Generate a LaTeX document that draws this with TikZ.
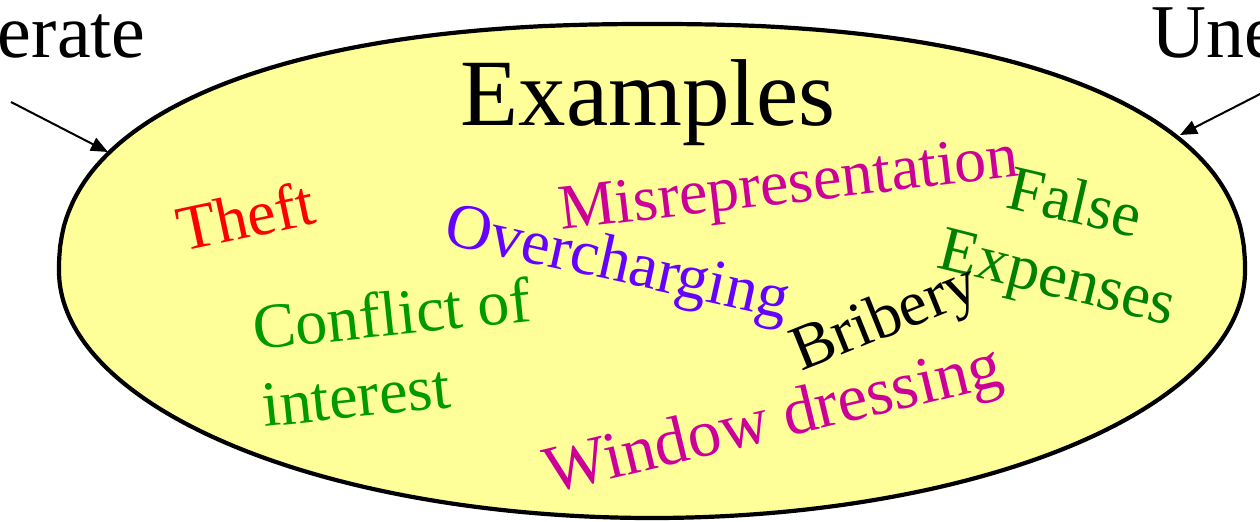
\documentclass[tikz,border=0pt]{standalone}
\usepackage{fontspec}
\setmainfont{Liberation Serif}
\usetikzlibrary{arrows.meta}
\definecolor{ellfill}{HTML}{FFFF99}
\definecolor{cred}{HTML}{FF0000}
\definecolor{cgreen}{HTML}{009900}
\definecolor{cdkgreen}{HTML}{008000}
\definecolor{cviolet}{HTML}{6600FF}
\definecolor{cmagenta}{HTML}{CC0099}
\begin{document}
\begin{tikzpicture}[x=0.5pt,y=-0.5pt,
  lbl/.style={anchor=base west, inner sep=0pt, font=\fontsize{32}{38}\selectfont},
  side/.style={inner sep=0pt, font=\fontsize{38}{44}\selectfont},
  arr/.style={line width=1pt, -{Triangle[length=8.5pt,width=7pt]}}]
\useasboundingbox (0,0) rectangle (1260,521);
% the oval (fuller at the top than at the bottom)
\draw[fill=ellfill, line width=2.1pt, line join=round]
  plot[domain=0:180, samples=181, variable=\t]
    ({652+593*sign(cos(\t))*(abs(cos(\t))+0.000001)^0.8696},
     {271-247*(abs(sin(\t))+0.000001)^0.8696})
  -- plot[domain=180:360, samples=181, variable=\t]
    ({652+593*cos(\t)}, {271-247*sin(\t)}) -- cycle;
\node[inner sep=0pt, anchor=base, font=\fontsize{47.5}{56}\selectfont] (title) at (648,125) {Examples};
\node[side, anchor=base east] (lft) at (146,57) {erate};
\node[side, anchor=base west] (rgt) at (1151,57) {Une};
\coordinate (lstart) at (11,102);
\coordinate (ltip) at (108,152);
\coordinate (rstart) at (1266,91);
\coordinate (rtip) at (1180,135);
\draw[arr] (lstart) -- (ltip);
\draw[arr] (rstart) -- (rtip);
\node[lbl, text=cred, rotate=12] (theft) at (182,252) {Theft};
\node[lbl, text=cgreen, rotate=6] (coi1) at (255,350) {Conflict of};
\node[lbl, text=cgreen, rotate=6] (coi2) at (264,427) {interest};
\node[lbl, text=cviolet, rotate=-12.5] (over) at (442,243) {Overcharging};
\node[lbl, text=cmagenta, rotate=6.7] (misr) at (561,230) {Misrepresentation};
\node[lbl, text=cdkgreen, rotate=-13] (false) at (1004,207) {False};
\node[lbl, text=cdkgreen, rotate=-14] (exp) at (935,267) {Expenses};
\node[lbl, text=black, rotate=22] (brib) at (801,372) {Bribery};
\node[lbl, text=cmagenta, rotate=13.5, font=\fontsize{33.5}{40}\selectfont] (wind) at (550,494) {Window dressing};
\end{tikzpicture}
\end{document}
